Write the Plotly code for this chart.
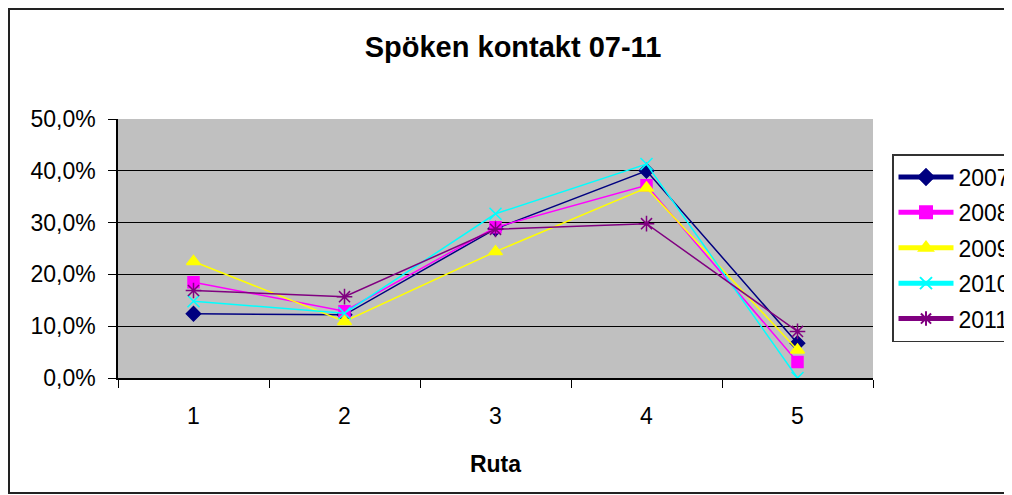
import plotly.graph_objects as go

categories = ["1", "2", "3", "4", "5"]
years = ["2007", "2008", "2009", "2010", "2011"]
v2007 = [0.124, 0.122, 0.288, 0.400, 0.067]
v2008 = [0.185, 0.129, 0.291, 0.372, 0.031]
v2009 = [0.225, 0.109, 0.244, 0.367, 0.054]
v2010 = [0.148, 0.125, 0.317, 0.413, 0.000]
v2011 = [0.169, 0.157, 0.287, 0.298, 0.090]
series = [v2007, v2008, v2009, v2010, v2011]
colors = ["#000080", "#FF00FF", "#FFFF00", "#00FFFF", "#800080"]
symbols = ["diamond", "square", "triangle-up", "x-thin-open", "asterisk-open"]
sizes = [11, 11, 12, 12, 13]

FONT = "Liberation Sans, Arial, sans-serif"

fig = go.Figure()
for name, vals, c, s, sz in zip(years, series, colors, symbols, sizes):
    fig.add_trace(go.Scatter(
        x=categories, y=vals, name=name, mode="lines+markers",
        legendgroup=name,
        line=dict(color=c, width=1.5),
        marker=dict(symbol=s, size=sz, color=c, line=dict(color=c, width=1.5)),
    ))

# page offset caused by the default 8px body margin
OFF = 8
W, H = 1012 - OFF, 495 - OFF
L, R, T, B = 118 - OFF, 873 - OFF, 119 - OFF, 378 - OFF
def px(x):
    return (x - OFF - L) / (R - L)
def py(y):
    return (B - (y - OFF)) / (B - T)

fig.update_layout(
    width=W, height=H,
    margin=dict(l=L, r=W - R, t=T, b=H - B, autoexpand=False),
    paper_bgcolor="white",
    plot_bgcolor="#C0C0C0",
    separators=",.",
    font=dict(family=FONT, size=23, color="black"),
    title=dict(text="<b>Spöken kontakt 07-11</b>", x=(513 - OFF) / W, xanchor="center",
               y=1 - (47 - OFF) / H, yanchor="middle", yref="container",
               font=dict(size=29, family=FONT, color="black")),
    showlegend=True,
    legend=dict(x=px(892), y=py(154), xanchor="left", yanchor="top",
                bordercolor="#333333", borderwidth=1.5, bgcolor="white",
                font=dict(size=23, family=FONT), tracegroupgap=2.5,
                itemwidth=55, itemsizing="constant"),
    xaxis=dict(type="category", range=[-0.5, 4.5], tickson="boundaries",
               ticks="outside", ticklen=8,
               tickcolor="black", showline=True, linecolor="black", linewidth=1.5,
               showgrid=False, ticklabelstandoff=17,
               title=dict(text="<b>Ruta</b>", standoff=28,
                          font=dict(size=23, family=FONT))),
    yaxis=dict(range=[0, 0.5], tickvals=[0, 0.1, 0.2, 0.3, 0.4, 0.5],
               tickformat=".1%", ticks="outside", ticklen=8, tickcolor="black",
               showline=True, linecolor="black", linewidth=1.5,
               showgrid=True, gridcolor="black", gridwidth=1,
               zeroline=False, ticklabelstandoff=8),
    shapes=[dict(type="rect", xref="paper", yref="paper",
                 x0=px(9), x1=px(1009), y0=py(493), y1=py(9),
                 line=dict(color="#222222", width=2), layer="below")],
)

fig.write_html("out.html")
